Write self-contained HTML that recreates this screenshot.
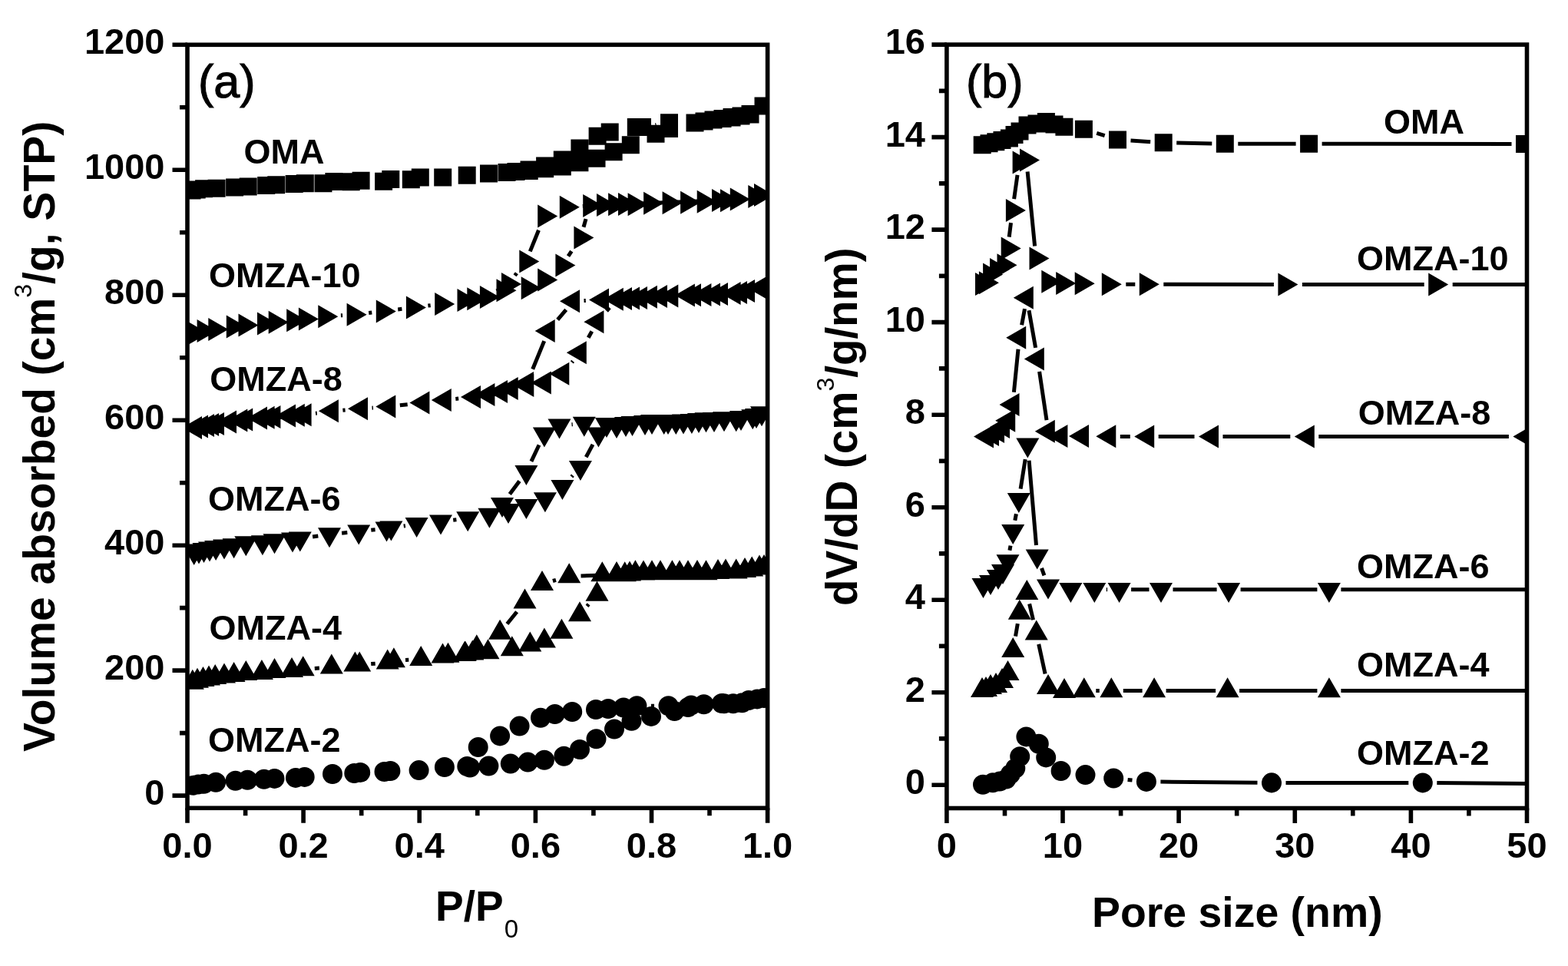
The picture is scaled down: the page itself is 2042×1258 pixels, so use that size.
<!DOCTYPE html>
<html><head><meta charset="utf-8"><title>Isotherms</title><style>html,body{margin:0;padding:0;background:#fff;}svg{display:block;}</style></head><body>
<svg width="2042" height="1258" viewBox="0 0 2042 1258" font-family="'Liberation Sans', sans-serif">
<defs><clipPath id="ca"><rect x="244.0" y="58.3" width="755.6" height="994.0"/></clipPath><clipPath id="cb"><rect x="1232.9" y="58.1" width="755.5999999999999" height="994.4"/></clipPath></defs>
<rect width="2042" height="1258" fill="#fff"/>
<path d="M854.6 162.6L853.4 162.8" stroke="#000" stroke-width="5.0" fill="none" clip-path="url(#ca)"/>
<path d="M238.5 236.5h23.0v23.0h-23.0zM244.7 235.5h23.0v23.0h-23.0zM254.1 234.3h23.0v23.0h-23.0zM270.6 233.8h23.0v23.0h-23.0zM294.1 232.6h23.0v23.0h-23.0zM311.7 231.4h23.0v23.0h-23.0zM335.2 230.0h23.0v23.0h-23.0zM348.2 229.3h23.0v23.0h-23.0zM371.7 227.9h23.0v23.0h-23.0zM385.8 227.3h23.0v23.0h-23.0zM409.5 227.3h23.0v23.0h-23.0zM423.4 224.9h23.0v23.0h-23.0zM445.7 225.3h23.0v23.0h-23.0zM458.6 223.8h23.0v23.0h-23.0zM488.1 224.7h23.0v23.0h-23.0zM497.3 222.0h23.0v23.0h-23.0zM523.8 222.2h23.0v23.0h-23.0zM535.8 219.5h23.0v23.0h-23.0zM565.2 219.5h23.0v23.0h-23.0zM596.7 216.7h23.0v23.0h-23.0zM625.0 214.5h23.0v23.0h-23.0zM648.5 213.0h23.0v23.0h-23.0zM677.7 210.9h23.0v23.0h-23.0zM698.1 208.2h23.0v23.0h-23.0zM720.8 205.5h23.0v23.0h-23.0zM743.4 200.2h23.0v23.0h-23.0zM765.5 194.8h23.0v23.0h-23.0zM787.6 186.2h23.0v23.0h-23.0zM809.8 177.2h23.0v23.0h-23.0zM842.5 162.8h23.0v23.0h-23.0zM860.0 156.1h23.0v23.0h-23.0zM893.5 148.5h23.0v23.0h-23.0zM905.5 146.5h23.0v23.0h-23.0zM917.5 144.5h23.0v23.0h-23.0zM929.5 143.0h23.0v23.0h-23.0zM941.5 141.5h23.0v23.0h-23.0zM953.5 139.5h23.0v23.0h-23.0zM965.5 137.5h23.0v23.0h-23.0zM982.5 126.5h23.0v23.0h-23.0zM965.5 137.0h23.0v23.0h-23.0zM941.5 141.0h23.0v23.0h-23.0zM917.5 144.5h23.0v23.0h-23.0zM893.5 148.5h23.0v23.0h-23.0zM860.0 148.3h23.0v23.0h-23.0zM825.0 154.1h23.0v23.0h-23.0zM816.8 154.1h23.0v23.0h-23.0zM782.7 160.5h23.0v23.0h-23.0zM766.6 165.7h23.0v23.0h-23.0zM743.4 181.5h23.0v23.0h-23.0zM720.8 196.5h23.0v23.0h-23.0zM698.1 204.5h23.0v23.0h-23.0zM677.5 209.5h23.0v23.0h-23.0zM660.5 212.0h23.0v23.0h-23.0z" fill="#000" clip-path="url(#ca)"/>
<path d="M443.9 410.8L446.1 410.7M480.2 407.5L484.3 407.0M518.2 402.9L523.4 402.3M557.4 398.1L560.7 397.7M740.0 333.6L744.3 327.1M760.0 295.7L763.0 285.1M965.9 258.4L968.9 258.0M921.5 261.6L835.3 265.1M771.5 267.8L758.8 268.5M701.5 299.7L690.3 327.4M672.9 355.8L670.5 358.8M648.3 378.1L646.7 379.0" stroke="#000" stroke-width="5.0" fill="none" clip-path="url(#ca)"/>
<path d="M263.0 436.0L237.0 421.0L237.0 451.0zM271.0 434.0L245.0 419.0L245.0 449.0zM282.6 430.9L256.6 415.9L256.6 445.9zM297.3 428.9L271.3 413.9L271.3 443.9zM320.8 425.4L294.8 410.4L294.8 440.4zM336.5 423.6L310.5 408.6L310.5 438.6zM361.0 421.5L335.0 406.5L335.0 436.5zM375.7 419.8L349.7 404.8L349.7 434.8zM399.2 417.2L373.2 402.2L373.2 432.2zM414.9 415.5L388.9 400.5L388.9 430.5zM440.3 412.3L414.3 397.3L414.3 427.3zM477.6 409.7L451.6 394.7L451.6 424.7zM515.8 405.4L489.8 390.4L489.8 420.4zM554.9 400.5L528.9 385.5L528.9 415.5zM592.2 396.0L566.2 381.0L566.2 411.0zM621.5 391.1L595.5 376.1L595.5 406.1zM634.3 389.2L608.3 374.2L608.3 404.2zM650.9 387.0L624.9 372.0L624.9 402.0zM672.5 378.2L646.5 363.2L646.5 393.2zM704.7 375.2L678.7 360.2L678.7 390.2zM726.2 364.5L700.2 349.5L700.2 379.5zM749.4 345.4L723.4 330.4L723.4 360.4zM773.4 309.6L747.4 294.6L747.4 324.6zM785.2 267.9L759.2 252.9L759.2 282.9zM818.1 266.2L792.1 251.2L792.1 281.2zM843.6 266.2L817.6 251.2L817.6 281.2zM864.1 264.7L838.1 249.7L838.1 279.7zM888.6 264.3L862.6 249.3L862.6 279.3zM912.1 263.7L886.1 248.7L886.1 278.7zM933.7 262.7L907.7 247.7L907.7 277.7zM964.0 261.3L938.0 246.3L938.0 276.3zM1000.3 255.9L974.3 240.9L974.3 270.9zM1008.0 254.0L982.0 239.0L982.0 269.0zM976.8 259.5L950.8 244.5L950.8 274.5zM953.0 261.0L927.0 246.0L927.0 276.0zM831.0 266.0L805.0 251.0L805.0 281.0zM803.0 267.0L777.0 252.0L777.0 282.0zM754.8 269.7L728.8 254.7L728.8 284.7zM726.2 281.6L700.2 266.6L700.2 296.6zM702.3 340.6L676.3 325.6L676.3 355.6zM679.0 370.0L653.0 355.0L653.0 385.0zM650.9 387.0L624.9 372.0L624.9 402.0z" fill="#000" clip-path="url(#ca)"/>
<path d="M411.0 538.2L412.8 538.0M446.4 534.2L449.6 533.9M484.5 531.2L485.9 531.1M520.8 527.8L530.7 526.7M593.3 519.5L597.2 519.1M744.8 471.9L746.1 470.3M766.2 439.7L770.8 431.5M790.0 405.0L793.8 400.6M882.7 385.1L874.5 385.4M762.8 391.5L760.5 391.6M737.2 403.3L726.2 416.3M708.7 444.1L693.7 480.8" stroke="#000" stroke-width="5.0" fill="none" clip-path="url(#ca)"/>
<path d="M237.0 557.0L263.0 542.0L263.0 572.0zM245.0 555.5L271.0 540.5L271.0 570.5zM253.0 554.0L279.0 539.0L279.0 569.0zM259.1 553.0L285.1 538.0L285.1 568.0zM266.0 551.9L292.0 536.9L292.0 566.9zM282.0 549.5L308.0 534.5L308.0 564.5zM296.3 547.5L322.3 532.5L322.3 562.5zM303.2 546.4L329.2 531.4L329.2 561.4zM322.0 544.5L348.0 529.5L348.0 559.5zM331.6 543.8L357.6 528.8L357.6 558.8zM339.4 543.1L365.4 528.1L365.4 558.1zM359.0 541.5L385.0 526.5L385.0 556.5zM370.8 540.8L396.8 525.8L396.8 555.8zM379.6 540.2L405.6 525.2L405.6 555.2zM414.9 535.3L440.9 520.3L440.9 550.3zM453.0 532.3L479.0 517.3L479.0 547.3zM489.3 529.4L515.3 514.4L515.3 544.4zM533.4 524.5L559.4 509.5L559.4 539.5zM561.8 521.0L587.8 506.0L587.8 536.0zM600.0 517.0L626.0 502.0L626.0 532.0zM618.4 514.0L644.4 499.0L644.4 529.0zM635.0 510.0L661.0 495.0L661.0 525.0zM648.7 506.0L674.7 491.0L674.7 521.0zM669.3 502.0L695.3 487.0L695.3 517.0zM691.8 498.5L717.8 483.5L717.8 513.5zM715.3 486.7L741.3 471.7L741.3 501.7zM737.8 459.3L763.8 444.3L763.8 474.3zM760.4 419.2L786.4 404.2L786.4 434.2zM785.8 389.8L811.8 374.8L811.8 404.8zM807.0 388.5L833.0 373.5L833.0 403.5zM829.9 386.8L855.9 371.8L855.9 401.8zM857.3 385.5L883.3 370.5L883.3 400.5zM878.9 384.5L904.9 369.5L904.9 399.5zM900.4 383.9L926.4 368.9L926.4 398.9zM922.0 383.0L948.0 368.0L948.0 398.0zM938.6 382.0L964.6 367.0L964.6 397.0zM957.0 379.0L983.0 364.0L983.0 394.0zM972.9 374.7L998.9 359.7L998.9 389.7zM979.0 373.0L1005.0 358.0L1005.0 388.0zM947.0 381.0L973.0 366.0L973.0 396.0zM912.0 383.5L938.0 368.5L938.0 398.5zM887.0 384.2L913.0 369.2L913.0 399.2zM843.0 386.0L869.0 371.0L869.0 401.0zM817.0 388.0L843.0 373.0L843.0 403.0zM797.0 389.0L823.0 374.0L823.0 404.0zM767.0 390.5L793.0 375.5L793.0 405.5zM729.0 392.3L755.0 377.3L755.0 407.3zM696.7 430.9L722.7 415.9L722.7 445.9zM669.0 499.0L695.0 484.0L695.0 514.0zM648.7 506.0L674.7 491.0L674.7 521.0z" fill="#000" clip-path="url(#ca)"/>
<path d="M407.1 698.9L414.3 697.9M445.1 694.3L452.3 693.6M483.3 690.3L488.6 689.8M525.7 685.0L527.9 684.7M590.2 677.2L594.4 676.7M744.4 620.9L745.9 619.2M763.2 595.2L772.0 578.9M949.8 544.5L945.8 544.8M745.8 552.7L744.5 552.8M702.0 579.5L691.9 600.9M676.5 626.5L663.8 643.6" stroke="#000" stroke-width="5.0" fill="none" clip-path="url(#ca)"/>
<path d="M252.7 736.0L267.7 710.0L237.7 710.0zM259.0 734.5L274.0 708.5L244.0 708.5zM265.5 733.0L280.5 707.0L250.5 707.0zM273.0 731.5L288.0 705.5L258.0 705.5zM281.1 730.1L296.1 704.1L266.1 704.1zM292.0 728.5L307.0 702.5L277.0 702.5zM304.6 727.2L319.6 701.2L289.6 701.2zM320.3 724.2L335.3 698.2L305.3 698.2zM341.9 723.3L356.9 697.3L326.9 697.3zM357.5 721.3L372.5 695.3L342.5 695.3zM381.0 719.5L396.0 693.5L366.0 693.5zM390.8 718.4L405.8 692.4L375.8 692.4zM429.0 713.3L444.0 687.3L414.0 687.3zM467.2 709.4L482.2 683.4L452.2 683.4zM503.5 705.5L518.5 679.5L488.5 679.5zM509.4 704.5L524.4 678.5L494.4 678.5zM542.6 700.0L557.6 674.0L527.6 674.0zM574.0 696.5L589.0 670.5L559.0 670.5zM609.2 692.2L624.2 666.2L594.2 666.2zM637.4 687.7L652.4 661.7L622.4 661.7zM662.0 682.0L677.0 656.0L647.0 656.0zM685.4 676.0L700.4 650.0L670.4 650.0zM709.9 667.2L724.9 641.2L694.9 641.2zM732.4 650.9L747.4 624.9L717.4 624.9zM755.9 626.0L770.9 600.0L740.9 600.0zM779.4 582.4L794.4 556.4L764.4 556.4zM803.0 571.0L818.0 545.0L788.0 545.0zM823.5 568.0L838.5 542.0L808.5 542.0zM849.0 566.1L864.0 540.1L834.0 540.1zM864.7 566.1L879.7 540.1L849.7 540.1zM880.3 566.1L895.3 540.1L865.3 540.1zM900.9 565.1L915.9 539.1L885.9 539.1zM919.5 563.2L934.5 537.2L904.5 537.2zM943.0 562.2L958.0 536.2L928.0 536.2zM958.7 562.2L973.7 536.2L943.7 536.2zM980.2 559.2L995.2 533.2L965.2 533.2zM992.0 555.3L1007.0 529.3L977.0 529.3zM985.0 558.0L1000.0 532.0L970.0 532.0zM965.0 561.0L980.0 535.0L950.0 535.0zM930.0 563.0L945.0 537.0L915.0 537.0zM910.0 564.0L925.0 538.0L895.0 538.0zM890.0 565.5L905.0 539.5L875.0 539.5zM870.0 566.0L885.0 540.0L855.0 540.0zM840.0 567.0L855.0 541.0L825.0 541.0zM815.0 569.0L830.0 543.0L800.0 543.0zM790.0 570.0L805.0 544.0L775.0 544.0zM760.8 568.7L775.8 542.7L745.8 542.7zM728.5 571.6L743.5 545.6L713.5 545.6zM708.9 582.4L723.9 556.4L693.9 556.4zM685.4 631.9L700.4 605.9L670.4 605.9zM654.0 674.0L669.0 648.0L639.0 648.0zM637.4 687.7L652.4 661.7L622.4 661.7z" fill="#000" clip-path="url(#ca)"/>
<path d="M409.8 870.4L415.9 870.0M483.2 864.6L488.7 864.2M528.0 859.5L532.3 859.3M764.5 789.3L766.6 786.9M954.2 744.2L950.2 744.5M787.3 748.9L756.5 750.0M724.0 755.3L719.9 756.5M673.1 796.8L660.4 812.5" stroke="#000" stroke-width="5.0" fill="none" clip-path="url(#ca)"/>
<path d="M250.8 871.8L265.8 897.8L235.8 897.8zM257.0 869.8L272.0 895.8L242.0 895.8zM264.5 867.9L279.5 893.9L249.5 893.9zM272.0 866.4L287.0 892.4L257.0 892.4zM280.2 865.0L295.2 891.0L265.2 891.0zM292.0 863.5L307.0 889.5L277.0 889.5zM304.6 862.0L319.6 888.0L289.6 888.0zM320.3 860.1L335.3 886.1L305.3 886.1zM340.9 859.1L355.9 885.1L325.9 885.1zM357.5 857.1L372.5 883.1L342.5 883.1zM380.0 856.1L395.0 882.1L365.0 882.1zM394.7 854.2L409.7 880.2L379.7 880.2zM431.8 851.5L446.8 877.5L416.8 877.5zM462.4 848.5L477.4 874.5L447.4 874.5zM468.2 848.5L483.2 874.5L453.2 874.5zM504.7 845.6L519.7 871.6L489.7 871.6zM512.9 843.2L527.9 869.2L497.9 869.2zM548.2 840.9L563.2 866.9L533.2 866.9zM576.5 837.4L591.5 863.4L561.5 863.4zM583.5 836.8L598.5 862.8L568.5 862.8zM605.9 834.5L620.9 860.5L590.9 860.5zM615.3 833.5L630.3 859.5L600.3 859.5zM635.5 832.2L650.5 858.2L620.5 858.2zM666.8 828.2L681.8 854.2L651.8 854.2zM690.3 822.4L705.3 848.4L675.3 848.4zM708.9 817.5L723.9 843.5L693.9 843.5zM731.4 805.7L746.4 831.7L716.4 831.7zM755.0 783.2L770.0 809.2L740.0 809.2zM777.5 756.7L792.5 782.7L762.5 782.7zM784.3 731.3L799.3 757.3L769.3 757.3zM803.0 731.3L818.0 757.3L788.0 757.3zM813.7 731.3L828.7 757.3L798.7 757.3zM827.4 729.3L842.4 755.3L812.4 755.3zM849.0 729.3L864.0 755.3L834.0 755.3zM875.4 729.3L890.4 755.3L860.4 755.3zM896.0 729.3L911.0 755.3L881.0 755.3zM919.5 729.3L934.5 755.3L904.5 755.3zM945.0 727.4L960.0 753.4L930.0 753.4zM958.7 727.4L973.7 753.4L943.7 753.4zM979.2 724.4L994.2 750.4L964.2 750.4zM989.0 722.4L1004.0 748.4L974.0 748.4zM995.0 722.0L1010.0 748.0L980.0 748.0zM970.0 726.0L985.0 752.0L955.0 752.0zM935.0 728.0L950.0 754.0L920.0 754.0zM908.0 729.0L923.0 755.0L893.0 755.0zM885.0 729.3L900.0 755.3L870.0 755.3zM860.0 729.3L875.0 755.3L845.0 755.3zM838.0 729.5L853.0 755.5L823.0 755.5zM820.0 730.5L835.0 756.5L805.0 756.5zM803.0 731.0L818.0 757.0L788.0 757.0zM741.2 733.2L756.2 759.2L726.2 759.2zM706.0 743.0L721.0 769.0L691.0 769.0zM683.5 766.5L698.5 792.5L668.5 792.5zM651.1 806.7L666.1 832.7L636.1 832.7zM620.8 826.3L635.8 852.3L605.8 852.3zM605.0 835.0L620.0 861.0L590.0 861.0z" fill="#000" clip-path="url(#ca)"/>
<path d="M921.5 917.2L918.5 917.3M852.0 919.2L847.9 919.2" stroke="#000" stroke-width="5.0" fill="none" clip-path="url(#ca)"/>
<path d="M238.8 1022.7a13.0 13.0 0 1 0 26.0 0a13.0 13.0 0 1 0 -26.0 0zM245.0 1021.5a13.0 13.0 0 1 0 26.0 0a13.0 13.0 0 1 0 -26.0 0zM252.5 1020.7a13.0 13.0 0 1 0 26.0 0a13.0 13.0 0 1 0 -26.0 0zM268.1 1018.8a13.0 13.0 0 1 0 26.0 0a13.0 13.0 0 1 0 -26.0 0zM293.6 1016.8a13.0 13.0 0 1 0 26.0 0a13.0 13.0 0 1 0 -26.0 0zM309.3 1015.8a13.0 13.0 0 1 0 26.0 0a13.0 13.0 0 1 0 -26.0 0zM330.8 1014.8a13.0 13.0 0 1 0 26.0 0a13.0 13.0 0 1 0 -26.0 0zM344.5 1013.9a13.0 13.0 0 1 0 26.0 0a13.0 13.0 0 1 0 -26.0 0zM372.0 1012.9a13.0 13.0 0 1 0 26.0 0a13.0 13.0 0 1 0 -26.0 0zM383.7 1011.9a13.0 13.0 0 1 0 26.0 0a13.0 13.0 0 1 0 -26.0 0zM420.0 1008.0a13.0 13.0 0 1 0 26.0 0a13.0 13.0 0 1 0 -26.0 0zM448.3 1007.0a13.0 13.0 0 1 0 26.0 0a13.0 13.0 0 1 0 -26.0 0zM456.2 1006.0a13.0 13.0 0 1 0 26.0 0a13.0 13.0 0 1 0 -26.0 0zM487.5 1005.0a13.0 13.0 0 1 0 26.0 0a13.0 13.0 0 1 0 -26.0 0zM495.4 1004.0a13.0 13.0 0 1 0 26.0 0a13.0 13.0 0 1 0 -26.0 0zM532.6 1003.1a13.0 13.0 0 1 0 26.0 0a13.0 13.0 0 1 0 -26.0 0zM565.9 999.0a13.0 13.0 0 1 0 26.0 0a13.0 13.0 0 1 0 -26.0 0zM599.0 999.5a13.0 13.0 0 1 0 26.0 0a13.0 13.0 0 1 0 -26.0 0zM623.4 997.5a13.0 13.0 0 1 0 26.0 0a13.0 13.0 0 1 0 -26.0 0zM651.8 994.6a13.0 13.0 0 1 0 26.0 0a13.0 13.0 0 1 0 -26.0 0zM674.4 992.6a13.0 13.0 0 1 0 26.0 0a13.0 13.0 0 1 0 -26.0 0zM695.9 989.7a13.0 13.0 0 1 0 26.0 0a13.0 13.0 0 1 0 -26.0 0zM721.4 984.8a13.0 13.0 0 1 0 26.0 0a13.0 13.0 0 1 0 -26.0 0zM742.0 976.0a13.0 13.0 0 1 0 26.0 0a13.0 13.0 0 1 0 -26.0 0zM763.5 962.3a13.0 13.0 0 1 0 26.0 0a13.0 13.0 0 1 0 -26.0 0zM787.0 949.5a13.0 13.0 0 1 0 26.0 0a13.0 13.0 0 1 0 -26.0 0zM809.5 938.8a13.0 13.0 0 1 0 26.0 0a13.0 13.0 0 1 0 -26.0 0zM835.0 932.9a13.0 13.0 0 1 0 26.0 0a13.0 13.0 0 1 0 -26.0 0zM865.4 926.0a13.0 13.0 0 1 0 26.0 0a13.0 13.0 0 1 0 -26.0 0zM883.0 921.1a13.0 13.0 0 1 0 26.0 0a13.0 13.0 0 1 0 -26.0 0zM903.6 917.2a13.0 13.0 0 1 0 26.0 0a13.0 13.0 0 1 0 -26.0 0zM930.0 916.2a13.0 13.0 0 1 0 26.0 0a13.0 13.0 0 1 0 -26.0 0zM941.8 916.2a13.0 13.0 0 1 0 26.0 0a13.0 13.0 0 1 0 -26.0 0zM953.5 915.3a13.0 13.0 0 1 0 26.0 0a13.0 13.0 0 1 0 -26.0 0zM973.1 910.4a13.0 13.0 0 1 0 26.0 0a13.0 13.0 0 1 0 -26.0 0zM982.0 909.0a13.0 13.0 0 1 0 26.0 0a13.0 13.0 0 1 0 -26.0 0zM962.0 912.0a13.0 13.0 0 1 0 26.0 0a13.0 13.0 0 1 0 -26.0 0zM927.0 916.0a13.0 13.0 0 1 0 26.0 0a13.0 13.0 0 1 0 -26.0 0zM887.0 918.5a13.0 13.0 0 1 0 26.0 0a13.0 13.0 0 1 0 -26.0 0zM857.5 919.2a13.0 13.0 0 1 0 26.0 0a13.0 13.0 0 1 0 -26.0 0zM816.4 919.2a13.0 13.0 0 1 0 26.0 0a13.0 13.0 0 1 0 -26.0 0zM799.0 921.5a13.0 13.0 0 1 0 26.0 0a13.0 13.0 0 1 0 -26.0 0zM779.0 923.0a13.0 13.0 0 1 0 26.0 0a13.0 13.0 0 1 0 -26.0 0zM763.0 924.0a13.0 13.0 0 1 0 26.0 0a13.0 13.0 0 1 0 -26.0 0zM732.2 927.0a13.0 13.0 0 1 0 26.0 0a13.0 13.0 0 1 0 -26.0 0zM709.6 930.0a13.0 13.0 0 1 0 26.0 0a13.0 13.0 0 1 0 -26.0 0zM691.0 934.8a13.0 13.0 0 1 0 26.0 0a13.0 13.0 0 1 0 -26.0 0zM663.6 945.6a13.0 13.0 0 1 0 26.0 0a13.0 13.0 0 1 0 -26.0 0zM638.1 958.4a13.0 13.0 0 1 0 26.0 0a13.0 13.0 0 1 0 -26.0 0zM609.7 973.0a13.0 13.0 0 1 0 26.0 0a13.0 13.0 0 1 0 -26.0 0zM595.3 998.0a13.0 13.0 0 1 0 26.0 0a13.0 13.0 0 1 0 -26.0 0z" fill="#000" clip-path="url(#ca)"/>
<path d="M1428.2 173.4L1438.7 176.7M1472.5 183.0L1498.2 184.7M1532.2 186.1L1578.3 186.9M1612.3 187.2L1687.6 187.2M1721.6 187.2L1968.5 187.6" stroke="#000" stroke-width="5.0" fill="none" clip-path="url(#cb)"/>
<path d="M1267.7 177.3h23.0v23.0h-23.0zM1276.5 175.3h23.0v23.0h-23.0zM1285.3 173.3h23.0v23.0h-23.0zM1293.5 171.0h23.0v23.0h-23.0zM1302.9 168.5h23.0v23.0h-23.0zM1309.5 164.0h23.0v23.0h-23.0zM1316.5 159.5h23.0v23.0h-23.0zM1326.5 151.5h23.0v23.0h-23.0zM1338.5 149.5h23.0v23.0h-23.0zM1350.9 146.9h23.0v23.0h-23.0zM1361.5 150.5h23.0v23.0h-23.0zM1374.4 153.8h23.0v23.0h-23.0zM1399.9 156.7h23.0v23.0h-23.0zM1444.0 170.4h23.0v23.0h-23.0zM1503.7 174.3h23.0v23.0h-23.0zM1583.8 175.7h23.0v23.0h-23.0zM1693.1 175.7h23.0v23.0h-23.0zM1974.0 176.1h23.0v23.0h-23.0z" fill="#000" clip-path="url(#cb)"/>
<path d="M1314.2 308.6L1316.5 290.1M1320.6 259.2L1325.0 227.8M1338.1 223.4L1347.6 320.4M1466.3 370.2L1478.3 370.2M1515.3 370.2L1658.9 370.4M1695.9 370.4L1854.7 370.4M1891.7 370.4L2081.5 370.4" stroke="#000" stroke-width="5.0" fill="none" clip-path="url(#cb)"/>
<path d="M1296.0 370.0L1270.0 355.0L1270.0 385.0zM1300.9 368.3L1274.9 353.3L1274.9 383.3zM1306.1 357.4L1280.1 342.4L1280.1 372.4zM1315.0 351.0L1289.0 336.0L1289.0 366.0zM1324.5 345.2L1298.5 330.2L1298.5 360.2zM1329.7 323.4L1303.7 308.4L1303.7 338.4zM1335.9 273.9L1309.9 258.9L1309.9 288.9zM1344.6 211.5L1318.6 196.5L1318.6 226.5zM1354.0 208.5L1328.0 193.5L1328.0 223.5zM1366.5 336.5L1340.5 321.5L1340.5 351.5zM1382.3 366.8L1356.3 351.8L1356.3 381.8zM1401.2 369.0L1375.2 354.0L1375.2 384.0zM1425.7 369.2L1399.7 354.2L1399.7 384.2zM1460.8 370.2L1434.8 355.2L1434.8 385.2zM1509.8 370.2L1483.8 355.2L1483.8 385.2zM1690.4 370.4L1664.4 355.4L1664.4 385.4zM1886.2 370.4L1860.2 355.4L1860.2 385.4zM2113.0 370.4L2087.0 355.4L2087.0 385.4z" fill="#000" clip-path="url(#cb)"/>
<path d="M1320.4 510.8L1326.0 454.7M1330.6 423.2L1334.5 402.1M1340.0 404.2L1348.6 452.9M1353.6 483.8L1363.0 547.1M1458.8 568.4L1471.8 568.4M1508.7 568.5L1555.5 568.5M1592.5 568.5L1680.3 568.5M1717.3 568.5L1964.9 568.5" stroke="#000" stroke-width="5.0" fill="none" clip-path="url(#cb)"/>
<path d="M1268.0 568.5L1294.0 553.5L1294.0 583.5zM1275.0 566.0L1301.0 551.0L1301.0 581.0zM1282.0 562.0L1308.0 547.0L1308.0 577.0zM1289.0 556.0L1315.0 541.0L1315.0 571.0zM1296.2 547.8L1322.2 532.8L1322.2 562.8zM1301.5 526.9L1327.5 511.9L1327.5 541.9zM1310.2 439.8L1336.2 424.8L1336.2 454.8zM1319.8 387.7L1345.8 372.7L1345.8 402.7zM1333.8 467.4L1359.8 452.4L1359.8 482.4zM1347.8 561.8L1373.8 546.8L1373.8 576.8zM1364.4 568.0L1390.4 553.0L1390.4 583.0zM1392.0 568.0L1418.0 553.0L1418.0 583.0zM1427.3 568.3L1453.3 553.3L1453.3 583.3zM1477.2 568.5L1503.2 553.5L1503.2 583.5zM1561.0 568.5L1587.0 553.5L1587.0 583.5zM1685.8 568.5L1711.8 553.5L1711.8 583.5zM1970.4 568.5L1996.4 553.5L1996.4 583.5z" fill="#000" clip-path="url(#cb)"/>
<path d="M1314.9 716.8L1316.0 710.6M1321.8 677.7L1323.4 669.2M1329.1 636.6L1335.2 598.2M1340.1 599.7L1349.5 710.0M1356.5 739.9L1359.9 749.4M1440.8 767.7L1442.1 767.7M1473.1 767.7L1496.5 767.7M1527.5 767.7L1584.6 767.7M1615.6 767.7L1715.4 767.7M1746.4 767.7L2084.5 767.7" stroke="#000" stroke-width="5.0" fill="none" clip-path="url(#cb)"/>
<path d="M1280.5 779.0L1295.5 753.0L1265.5 753.0zM1290.0 775.0L1305.0 749.0L1275.0 749.0zM1300.0 768.0L1315.0 742.0L1285.0 742.0zM1306.0 761.0L1321.0 735.0L1291.0 735.0zM1312.5 748.2L1327.5 722.2L1297.5 722.2zM1319.2 709.1L1334.2 683.1L1304.2 683.1zM1326.8 668.0L1341.8 642.0L1311.8 642.0zM1338.3 596.5L1353.3 570.5L1323.3 570.5zM1350.7 741.5L1365.7 715.5L1335.7 715.5zM1365.0 780.6L1380.0 754.6L1350.0 754.6zM1394.4 785.0L1409.4 759.0L1379.4 759.0zM1425.3 785.0L1440.3 759.0L1410.3 759.0zM1457.6 785.0L1472.6 759.0L1442.6 759.0zM1512.0 785.0L1527.0 759.0L1497.0 759.0zM1600.1 785.0L1615.1 759.0L1585.1 759.0zM1730.9 785.0L1745.9 759.0L1715.9 759.0zM2100.0 785.0L2115.0 759.0L2085.0 759.0z" fill="#000" clip-path="url(#cb)"/>
<path d="M1322.5 828.6L1325.3 812.2M1340.6 786.4L1345.5 807.2M1352.7 838.9L1361.1 877.5M1427.3 899.5L1431.8 899.5M1462.8 899.5L1487.6 899.5M1518.6 899.5L1583.1 899.5M1614.1 899.5L1715.4 899.5M1746.4 899.5L2084.5 899.5" stroke="#000" stroke-width="5.0" fill="none" clip-path="url(#cb)"/>
<path d="M1279.0 882.0L1294.0 908.0L1264.0 908.0zM1284.0 881.0L1299.0 907.0L1269.0 907.0zM1290.0 878.0L1305.0 904.0L1275.0 904.0zM1297.0 876.0L1312.0 902.0L1282.0 902.0zM1305.0 870.0L1320.0 896.0L1290.0 896.0zM1312.5 860.0L1327.5 886.0L1297.5 886.0zM1319.2 830.0L1334.2 856.0L1304.2 856.0zM1327.8 780.8L1342.8 806.8L1312.8 806.8zM1337.3 755.0L1352.3 781.0L1322.3 781.0zM1349.7 807.5L1364.7 833.5L1334.7 833.5zM1365.0 878.1L1380.0 904.1L1350.0 904.1zM1386.0 883.0L1401.0 909.0L1371.0 909.0zM1411.8 882.2L1426.8 908.2L1396.8 908.2zM1447.3 882.2L1462.3 908.2L1432.3 908.2zM1503.1 882.2L1518.1 908.2L1488.1 908.2zM1598.6 882.2L1613.6 908.2L1583.6 908.2zM1730.9 882.2L1745.9 908.2L1715.9 908.2zM2100.0 882.2L2115.0 908.2L2085.0 908.2z" fill="#000" clip-path="url(#cb)"/>
<path d="M1468.6 1015.4L1474.5 1016.0M1511.4 1018.1L1637.5 1019.2M1674.5 1019.4L1834.3 1019.4M1871.3 1019.6L2081.5 1021.3" stroke="#000" stroke-width="5.0" fill="none" clip-path="url(#cb)"/>
<path d="M1267.0 1021.7a13.0 13.0 0 1 0 26.0 0a13.0 13.0 0 1 0 -26.0 0zM1279.9 1019.3a13.0 13.0 0 1 0 26.0 0a13.0 13.0 0 1 0 -26.0 0zM1289.0 1017.5a13.0 13.0 0 1 0 26.0 0a13.0 13.0 0 1 0 -26.0 0zM1297.5 1014.6a13.0 13.0 0 1 0 26.0 0a13.0 13.0 0 1 0 -26.0 0zM1303.0 1008.0a13.0 13.0 0 1 0 26.0 0a13.0 13.0 0 1 0 -26.0 0zM1309.3 1000.5a13.0 13.0 0 1 0 26.0 0a13.0 13.0 0 1 0 -26.0 0zM1315.2 985.2a13.0 13.0 0 1 0 26.0 0a13.0 13.0 0 1 0 -26.0 0zM1323.4 959.4a13.0 13.0 0 1 0 26.0 0a13.0 13.0 0 1 0 -26.0 0zM1339.8 968.8a13.0 13.0 0 1 0 26.0 0a13.0 13.0 0 1 0 -26.0 0zM1349.2 986.4a13.0 13.0 0 1 0 26.0 0a13.0 13.0 0 1 0 -26.0 0zM1368.6 1004.0a13.0 13.0 0 1 0 26.0 0a13.0 13.0 0 1 0 -26.0 0zM1400.5 1009.1a13.0 13.0 0 1 0 26.0 0a13.0 13.0 0 1 0 -26.0 0zM1437.2 1013.5a13.0 13.0 0 1 0 26.0 0a13.0 13.0 0 1 0 -26.0 0zM1479.9 1017.9a13.0 13.0 0 1 0 26.0 0a13.0 13.0 0 1 0 -26.0 0zM1643.0 1019.4a13.0 13.0 0 1 0 26.0 0a13.0 13.0 0 1 0 -26.0 0zM1839.8 1019.4a13.0 13.0 0 1 0 26.0 0a13.0 13.0 0 1 0 -26.0 0zM2087.0 1021.5a13.0 13.0 0 1 0 26.0 0a13.0 13.0 0 1 0 -26.0 0z" fill="#000" clip-path="url(#cb)"/>
<rect x="244.0" y="58.3" width="755.6" height="994.0" fill="none" stroke="#000" stroke-width="5.6"/>
<path d="M224.5 1036.1H244.0M234.0 954.6H244.0M224.5 873.1H244.0M234.0 791.6H244.0M224.5 710.2H244.0M234.0 628.7H244.0M224.5 547.2H244.0M234.0 465.7H244.0M224.5 384.2H244.0M234.0 302.7H244.0M224.5 221.3H244.0M234.0 139.8H244.0M224.5 58.3H244.0M244.0 1052.3V1071.8M319.6 1052.3V1062.3M395.1 1052.3V1071.8M470.7 1052.3V1062.3M546.2 1052.3V1071.8M621.8 1052.3V1062.3M697.4 1052.3V1071.8M772.9 1052.3V1062.3M848.5 1052.3V1071.8M924.0 1052.3V1062.3M999.6 1052.3V1071.8" stroke="#000" stroke-width="5.6" fill="none"/>
<rect x="1232.9" y="58.1" width="755.6" height="994.4" fill="none" stroke="#000" stroke-width="5.6"/>
<path d="M1213.4 1022.2H1232.9M1222.9 961.9H1232.9M1213.4 901.7H1232.9M1222.9 841.4H1232.9M1213.4 781.2H1232.9M1222.9 720.9H1232.9M1213.4 660.7H1232.9M1222.9 600.4H1232.9M1213.4 540.2H1232.9M1222.9 479.9H1232.9M1213.4 419.6H1232.9M1222.9 359.4H1232.9M1213.4 299.1H1232.9M1222.9 238.9H1232.9M1213.4 178.6H1232.9M1222.9 118.4H1232.9M1213.4 58.1H1232.9M1232.9 1052.5V1072.0M1308.5 1052.5V1062.5M1384.0 1052.5V1072.0M1459.6 1052.5V1062.5M1535.1 1052.5V1072.0M1610.7 1052.5V1062.5M1686.3 1052.5V1072.0M1761.8 1052.5V1062.5M1837.4 1052.5V1072.0M1912.9 1052.5V1062.5M1988.5 1052.5V1072.0" stroke="#000" stroke-width="5.6" fill="none"/>
<text x="214.5" y="1048.1" font-size="47" text-anchor="end" id="tx1" font-weight="bold">0</text>
<text x="214.5" y="885.1" font-size="47" text-anchor="end" id="tx2" font-weight="bold">200</text>
<text x="214.5" y="722.2" font-size="47" text-anchor="end" id="tx3" font-weight="bold">400</text>
<text x="214.5" y="559.2" font-size="47" text-anchor="end" id="tx4" font-weight="bold">600</text>
<text x="214.5" y="396.2" font-size="47" text-anchor="end" id="tx5" font-weight="bold">800</text>
<text x="214.5" y="233.3" font-size="47" text-anchor="end" id="tx6" font-weight="bold">1000</text>
<text x="214.5" y="70.3" font-size="47" text-anchor="end" id="tx7" font-weight="bold">1200</text>
<text x="244.0" y="1117.0" font-size="47" text-anchor="middle" id="tx8" font-weight="bold">0.0</text>
<text x="395.1" y="1117.0" font-size="47" text-anchor="middle" id="tx9" font-weight="bold">0.2</text>
<text x="546.2" y="1117.0" font-size="47" text-anchor="middle" id="tx10" font-weight="bold">0.4</text>
<text x="697.4" y="1117.0" font-size="47" text-anchor="middle" id="tx11" font-weight="bold">0.6</text>
<text x="848.5" y="1117.0" font-size="47" text-anchor="middle" id="tx12" font-weight="bold">0.8</text>
<text x="999.6" y="1117.0" font-size="47" text-anchor="middle" id="tx13" font-weight="bold">1.0</text>
<text x="1205.0" y="1034.2" font-size="47" text-anchor="end" id="tx14" font-weight="bold">0</text>
<text x="1205.0" y="913.7" font-size="47" text-anchor="end" id="tx15" font-weight="bold">2</text>
<text x="1205.0" y="793.2" font-size="47" text-anchor="end" id="tx16" font-weight="bold">4</text>
<text x="1205.0" y="672.7" font-size="47" text-anchor="end" id="tx17" font-weight="bold">6</text>
<text x="1205.0" y="552.2" font-size="47" text-anchor="end" id="tx18" font-weight="bold">8</text>
<text x="1205.0" y="431.6" font-size="47" text-anchor="end" id="tx19" font-weight="bold">10</text>
<text x="1205.0" y="311.1" font-size="47" text-anchor="end" id="tx20" font-weight="bold">12</text>
<text x="1205.0" y="190.6" font-size="47" text-anchor="end" id="tx21" font-weight="bold">14</text>
<text x="1205.0" y="70.1" font-size="47" text-anchor="end" id="tx22" font-weight="bold">16</text>
<text x="1232.9" y="1117.0" font-size="47" text-anchor="middle" id="tx23" font-weight="bold">0</text>
<text x="1384.0" y="1117.0" font-size="47" text-anchor="middle" id="tx24" font-weight="bold">10</text>
<text x="1535.1" y="1117.0" font-size="47" text-anchor="middle" id="tx25" font-weight="bold">20</text>
<text x="1686.3" y="1117.0" font-size="47" text-anchor="middle" id="tx26" font-weight="bold">30</text>
<text x="1837.4" y="1117.0" font-size="47" text-anchor="middle" id="tx27" font-weight="bold">40</text>
<text x="1988.5" y="1117.0" font-size="47" text-anchor="middle" id="tx28" font-weight="bold">50</text>
<text transform="translate(71.3 979) rotate(-90)" font-size="57" id="tx29" font-weight="bold">Volume absorbed (cm<tspan font-size="32" font-weight="normal" dy="-30">3</tspan><tspan dy="30">/g, STP)</tspan></text>
<text transform="translate(1116 789) rotate(-90)" font-size="56.5" id="tx30" font-weight="bold">dV/dD (cm<tspan font-size="32" font-weight="normal" dy="-30">3</tspan><tspan dy="30">/g/nm)</tspan></text>
<text x="567" y="1199.2" font-size="55" id="tx31" font-weight="bold">P/P<tspan font-size="33" font-weight="normal" dx="1" dy="22">0</tspan></text>
<text x="1422" y="1206.8" font-size="55.4" id="tx32" font-weight="bold">Pore size (nm)</text>
<text x="258.0" y="126.5" font-size="61" text-anchor="start" font-weight="normal" stroke="#000" stroke-width="1.1">(a)</text>
<text x="1258.0" y="127.0" font-size="61" text-anchor="start" font-weight="normal" stroke="#000" stroke-width="1.1">(b)</text>
<text x="317.5" y="213.2" font-size="45" text-anchor="start" id="tx35" font-weight="bold">OMA</text>
<text x="272.0" y="373.8" font-size="45" text-anchor="start" id="tx36" font-weight="bold">OMZA-10</text>
<text x="273.3" y="508.9" font-size="45" text-anchor="start" id="tx37" font-weight="bold">OMZA-8</text>
<text x="271.0" y="664.7" font-size="45" text-anchor="start" id="tx38" font-weight="bold">OMZA-6</text>
<text x="272.6" y="833.1" font-size="45" text-anchor="start" id="tx39" font-weight="bold">OMZA-4</text>
<text x="271.0" y="979.0" font-size="45" text-anchor="start" id="tx40" font-weight="bold">OMZA-2</text>
<text x="1802.0" y="173.7" font-size="45" text-anchor="start" id="tx41" font-weight="bold">OMA</text>
<text x="1767.0" y="351.6" font-size="45" text-anchor="start" id="tx42" font-weight="bold">OMZA-10</text>
<text x="1768.8" y="552.7" font-size="45" text-anchor="start" id="tx43" font-weight="bold">OMZA-8</text>
<text x="1767.0" y="753.2" font-size="45" text-anchor="start" id="tx44" font-weight="bold">OMZA-6</text>
<text x="1767.0" y="880.9" font-size="45" text-anchor="start" id="tx45" font-weight="bold">OMZA-4</text>
<text x="1767.0" y="996.4" font-size="45" text-anchor="start" id="tx46" font-weight="bold">OMZA-2</text>
</svg>
</body></html>
